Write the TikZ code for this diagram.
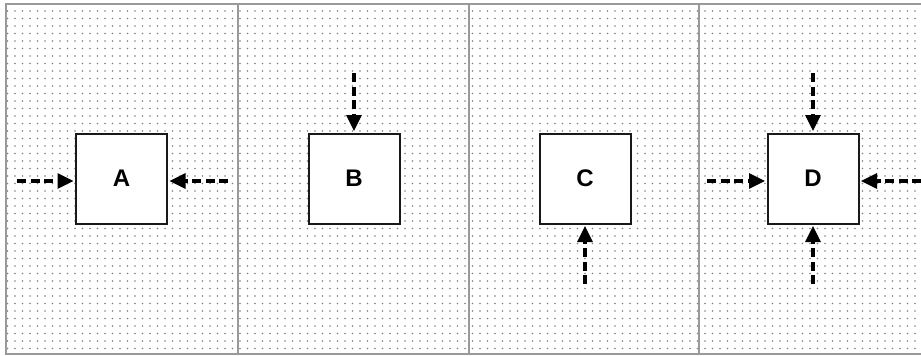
\documentclass[tikz,border=0pt]{standalone}
\usepackage{fontspec}
\setmainfont{Liberation Sans}
\usetikzlibrary{arrows.meta,patterns}

% fine stippled texture for the panels
\pgfdeclarepatternformonly{finedots}{\pgfqpoint{-1pt}{-1pt}}{\pgfqpoint{1pt}{1pt}}{\pgfqpoint{7.5pt}{7.5pt}}{%
  \pgfpathcircle{\pgfqpoint{0pt}{0pt}}{0.9pt}\pgfusepath{fill}}

\tikzset{
  frameline/.style={draw=black!40, line width=2pt},
  blockbox/.style={draw=black!90, fill=white, line width=2pt, minimum width=91pt,
    minimum height=90pt, inner sep=0pt, font=\fontsize{24}{26}\selectfont\bfseries},
  flow/.style={draw=black, line width=3.2pt, dash pattern=on 9pt off 4.5pt,
    -{Triangle[length=16pt,width=15pt]}, shorten >=1.5pt}
}

\begin{document}
\begin{tikzpicture}[x=1pt,y=-1pt]
  \useasboundingbox (0,0) rectangle (921,356);
  \fill[white] (0,0) rectangle (921,356);
  \fill[pattern=finedots, pattern color=black!50] (6,4) rectangle (921,354);

  % panel frame and dividers
  \draw[frameline] (921,4) -- (6,4) -- (6,354) -- (921,354);
  \foreach \xd in {238,469,699} \draw[frameline] (\xd,4) -- (\xd,354);

  % blocks
  \node[blockbox] (A) at (121.5,178.5) {A};
  \node[blockbox] (B) at (354,178.5) {B};
  \node[blockbox] (C) at (585,178.5) {C};
  \node[blockbox] (D) at (813,178.5) {D};

  % free ends of the incoming arrows
  \coordinate (aL) at (17,181);
  \coordinate (aR) at (228,181);
  \coordinate (bT) at (354,73);
  \coordinate (cB) at (585,284);
  \coordinate (dL) at (707,181);
  \coordinate (dR) at (921,181);
  \coordinate (dT) at (813,73);
  \coordinate (dB) at (813,284);

  \draw[flow] (aL) -- (A.west |- aL);
  \draw[flow] (aR) -- (A.east |- aR);
  \draw[flow] (bT) -- (B.north);
  \draw[flow] (cB) -- (C.south);
  \draw[flow] (dL) -- (D.west |- dL);
  \draw[flow] (dR) -- (D.east |- dR);
  \draw[flow] (dT) -- (D.north);
  \draw[flow] (dB) -- (D.south);
\end{tikzpicture}
\end{document}
